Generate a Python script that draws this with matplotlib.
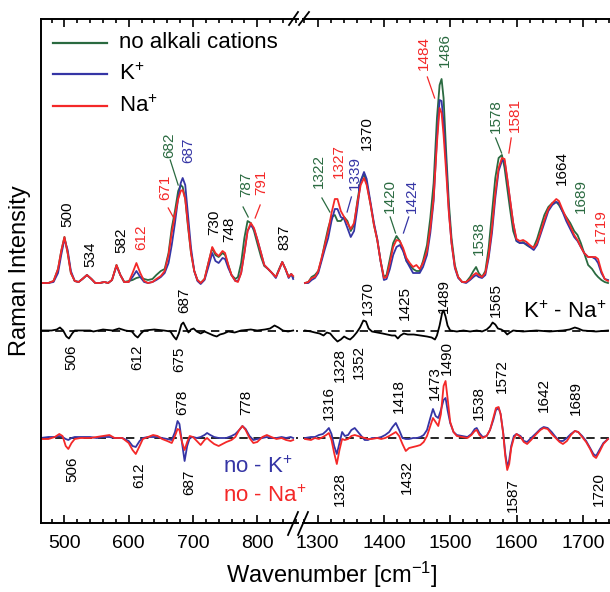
import matplotlib
matplotlib.use("Agg")
import matplotlib.pyplot as plt
from matplotlib.lines import Line2D
from matplotlib.ticker import MultipleLocator

plt.rcParams['font.family'] = ['Liberation Sans', 'DejaVu Sans']
plt.rcParams['mathtext.default'] = 'regular'

GREEN = '#2a6a40'
BLUE = '#3535a5'
RED = '#f42828'

# ---------------- data: main spectra (height above baseline) ----------------
wn_low = [463, 475, 483, 490, 495, 500, 505, 510, 516, 522, 528, 535, 542, 548, 555, 562, 568, 574,
          581, 587, 593, 600, 606, 612, 618, 624, 630, 637, 643, 650, 656, 662, 667, 672, 677, 681,
          684, 688, 692, 697, 702, 707, 712, 718, 724, 730, 735, 740, 746, 750, 755, 760, 766, 770,
          775, 780, 785, 790, 795, 800, 806, 811, 817, 823, 829, 834, 839, 844, 849, 853, 856]
na_low = [0, 0, 2, 14, 32, 46, 30, 10, 2, 1, 4, 8, 4, 0, 0, 1, 0, 3,
          18, 8, 1, 1, 10, 20, 10, 2, 0, 1, 4, 7, 12, 28, 50, 68, 84, 92,
          93, 84, 60, 30, 12, 3, 0, 4, 20, 36, 30, 27, 32, 30, 18, 8, 2, 1,
          10, 30, 52, 60, 55, 44, 30, 18, 14, 10, 6, 13, 21, 14, 6, 9, 7]
k_low = [0, 0, 1, 10, 28, 44, 33, 12, 2, 1, 4, 8, 4, 0, 0, 1, 0, 3,
         17, 8, 1, 1, 6, 12, 6, 1, 0, 1, 3, 6, 10, 20, 38, 60, 85, 100,
         105, 98, 70, 35, 12, 2, -1, 3, 16, 30, 22, 20, 25, 24, 15, 8, 2, 2,
         10, 30, 52, 58, 54, 44, 30, 18, 14, 10, 5, 13, 21, 14, 5, 9, 4]
no_low = [0, 0, 2, 14, 32, 46, 30, 10, 2, 1, 4, 8, 4, 0, 0, 1, 0, 3,
          18, 8, 1, 2, 3, 5, 6, 4, 3, 4, 8, 12, 14, 30, 55, 72, 92, 98,
          96, 84, 58, 30, 12, 3, 0, 4, 20, 35, 28, 26, 30, 28, 18, 8, 4, 6,
          20, 45, 62, 60, 52, 40, 26, 17, 14, 10, 6, 14, 21, 14, 6, 9, 6]

wn_high = [1281, 1286, 1291, 1296, 1301, 1306, 1311, 1316, 1321, 1326, 1330, 1335, 1340, 1345, 1350,
           1355, 1360, 1365, 1370, 1374, 1380, 1385, 1390, 1395, 1400, 1404, 1409, 1414, 1419, 1424,
           1429, 1434, 1439, 1444, 1449, 1454, 1459, 1465, 1470, 1475, 1480, 1484, 1487, 1490, 1494,
           1498, 1502, 1507, 1512, 1518, 1524, 1530, 1535, 1539, 1543, 1548, 1553, 1558, 1563, 1568,
           1573, 1578, 1582, 1586, 1590, 1595, 1600, 1605, 1610, 1615, 1620, 1626, 1631, 1636, 1642,
           1648, 1654, 1660, 1664, 1669, 1675, 1681, 1687, 1692, 1697, 1702, 1708, 1714, 1719, 1723,
           1728, 1733, 1738]
na_high = [0, 1, 5, 6, 12, 25, 38, 52, 70, 84, 84, 72, 66, 60, 54,
           60, 80, 98, 105, 98, 78, 58, 43, 22, 5, 6, 20, 36, 43, 42,
           35, 25, 20, 16, 18, 14, 20, 32, 55, 85, 140, 175, 170, 148, 110,
           70, 40, 16, 6, 1, 1, 4, 8, 10, 8, 6, 10, 28, 55, 90,
           115, 125, 124, 105, 85, 60, 44, 42, 43, 41, 38, 35, 40, 50, 63,
           74, 80, 84, 82, 74, 65, 57, 48, 43, 36, 30, 26, 26, 26, 24,
           12, 4, 2]
k_high = [0, 0, 3, 5, 10, 22, 34, 45, 62, 74, 74, 66, 64, 55, 46,
          52, 75, 102, 111, 104, 80, 60, 44, 22, 3, 4, 14, 28, 36, 38,
          32, 22, 16, 10, 10, 10, 16, 28, 50, 82, 145, 183, 182, 160, 118,
          72, 40, 15, 5, 1, 0, 3, 6, 8, 6, 5, 8, 25, 50, 85,
          112, 122, 122, 104, 84, 60, 42, 40, 40, 39, 36, 33, 38, 48, 60,
          72, 78, 81, 80, 72, 62, 54, 46, 42, 36, 30, 26, 26, 24, 20,
          10, 4, 3]
no_high = [0, 1, 6, 8, 12, 24, 40, 55, 66, 68, 62, 62, 66, 62, 52,
           58, 82, 102, 109, 100, 78, 58, 43, 22, 6, 8, 24, 40, 47, 42,
           33, 22, 18, 14, 12, 12, 22, 38, 65, 100, 165, 198, 204, 185, 130,
           80, 45, 18, 6, 1, 1, 6, 12, 16, 10, 6, 12, 35, 70, 105,
           125, 128, 115, 95, 75, 52, 42, 40, 41, 38, 36, 36, 44, 55, 68,
           76, 80, 81, 78, 72, 66, 60, 52, 48, 40, 30, 18, 14, 9, 6,
           3, 1, 0]

# ---------------- data: K+ - Na+ difference ----------------
wn_kna_low = [463, 480, 488, 493, 498, 503, 507, 512, 516, 540, 545, 560, 575, 585, 595, 605, 610, 614,
              619, 624, 640, 655, 665, 670, 674, 678, 682, 685, 689, 693, 697, 701, 706, 712, 718, 725,
              732, 737, 742, 748, 755, 765, 775, 790, 800, 812, 820, 827, 833, 840, 848, 856]
kna_low = [0, 0, 1, 3, 0, -6, -8, -3, 0, 0, -1, 1, 0, 2, 0, -1, -5, -7,
           -3, 0, 1, 0, -1, -6, -9, -3, 6, 8, 3, -2, 1, 2, -1, -3, -1, -3,
           -5, -6, -4, -3, -1, -2, 0, 1, 0, 1, 2, 5, 3, 0, -1, 0]
wn_kna_high = [1281, 1290, 1296, 1303, 1309, 1314, 1319, 1324, 1330, 1335, 1340, 1345, 1349, 1354, 1359,
               1364, 1369, 1373, 1377, 1382, 1390, 1398, 1405, 1412, 1417, 1421, 1425, 1430, 1436, 1445,
               1455, 1465, 1472, 1477, 1480, 1484, 1488, 1490, 1493, 1496, 1500, 1510, 1520, 1530, 1540,
               1548, 1555, 1560, 1564, 1568, 1572, 1577, 1582, 1586, 1590, 1595, 1610, 1630, 1650, 1670,
               1680, 1688, 1693, 1700, 1720, 1738]
kna_high = [0, -1, -2, -3, -5, -2, -3, -7, -11, -9, -6, -8, -9, -6, -2,
            3, 10, 9, 2, -1, -2, -3, -4, -5, -5, -8, -5, -3, -4, -4,
            -5, -6, -7, -9, -5, 5, 18, 20, 14, 5, 0, -1, 0, -1, 0,
            -1, 1, 4, 8, 6, 2, 1, -1, -4, -2, 0, -1, 0, -1, 0,
            1, 3, 2, 0, -1, 0]

# ---------------- data: no - K+ and no - Na+ differences ----------------
wn_d_low = [463, 475, 485, 492, 497, 502, 506, 511, 516, 525, 540, 550, 560, 570, 578, 590, 600, 606,
            611, 617, 622, 630, 638, 645, 652, 660, 667, 672, 676, 679, 683, 687, 691, 695, 700, 706,
            712, 718, 722, 727, 733, 740, 746, 752, 760, 766, 772, 777, 782, 788, 794, 800, 808, 815,
            822, 830, 838, 845, 852, 856]
nok_low = [0, 1, 1, 2, 1, -1, -2, 0, 1, 1, 1, 0, 1, 1, 0, 0, -3, -8,
           -9, -3, 0, 1, 1, 1, 0, -1, -2, 6, 17, 14, -5, -23, -8, 0, 1, 0,
           1, 3, 5, 3, 1, 0, 0, 0, 2, 4, 8, 12, 9, 2, -2, -1, 0, 1,
           0, 0, 1, 0, 1, 0]
nona_low = [-1, -1, 1, 4, 2, -8, -11, -5, -1, 0, 0, 1, 2, 3, 0, 0, -5, -12,
            -16, -8, -1, 1, 3, 2, -1, -3, -5, 2, 9, 8, -4, -12, -4, 2, 1, -3,
            -7, -2, 0, -3, -6, -8, -6, -4, -2, 1, 8, 12, 8, 0, -5, -4, 1, 3,
            1, -1, 0, -2, -3, -2]
wn_d_high = [1281, 1290, 1296, 1302, 1308, 1313, 1317, 1321, 1325, 1329, 1333, 1337, 1341, 1346, 1351,
             1356, 1361, 1366, 1371, 1376, 1382, 1390, 1396, 1402, 1408, 1413, 1418, 1423, 1428, 1433,
             1438, 1444, 1450, 1455, 1460, 1465, 1470, 1474, 1478, 1482, 1486, 1490, 1493, 1496, 1500,
             1505, 1510, 1518, 1526, 1532, 1537, 1540, 1544, 1549, 1555, 1560, 1565, 1569, 1573, 1576,
             1580, 1583, 1586, 1589, 1592, 1596, 1600, 1606, 1611, 1616, 1622, 1630, 1636, 1641, 1647,
             1653, 1659, 1665, 1670, 1676, 1682, 1688, 1693, 1699, 1705, 1711, 1716, 1720, 1725, 1731,
             1738]
nok_high = [0, 1, 1, 3, 4, 7, 10, 4, -8, -16, -5, 6, 2, 3, 8,
            10, 6, 2, -2, -2, 0, 0, 1, 3, 6, 11, 15, 8, 0, -1,
            -1, 0, 0, 1, 3, 8, 20, 29, 22, 20, 28, 38, 40, 28, 15,
            6, 3, 2, 1, 4, 9, 10, 5, 1, 2, 8, 18, 28, 30, 24,
            5, -15, -29, -22, -8, 2, 4, 2, -3, -4, 0, 5, 9, 11, 10,
            6, 1, -3, -3, 0, 4, 7, 6, 2, -3, -10, -16, -18, -12, -5,
            -1]
nona_high = [-1, -2, 0, -1, 1, 3, 5, -2, -15, -26, -12, -1, -2, -1, 2,
             3, 2, 1, 0, -1, -1, 0, -1, 0, 2, 4, 6, 2, -6, -13,
             -10, -9, -8, -7, -4, 2, 12, 20, 16, 12, 24, 52, 57, 40, 16,
             6, 2, 1, 0, 3, 7, 8, 3, 0, 2, 8, 20, 30, 31, 24,
             4, -18, -32, -26, -10, 0, 4, 1, -4, -6, -2, 4, 8, 10, 9,
             4, 0, -4, -6, -3, 3, 7, 6, 1, -4, -11, -18, -20, -14, -6,
             -1]

# offsets of the stacked traces
SPEC_BASE = 240
KNA_BASE = 192.5
DIFF_BASE = 85

# ---------------- peak labels: (text, wn, y, colour, vertical align) ----------------
labels_low = [
    ("500", 504, 296, 'k', 'bottom'), ("534", 541, 256, 'k', 'bottom'),
    ("582", 588, 270, 'k', 'bottom'), ("612", 619, 273, 'r', 'bottom'),
    ("671", 657, 323, 'r', 'bottom'), ("682", 662.6, 365, 'g', 'bottom'),
    ("687", 693, 360, 'b', 'bottom'), ("730", 733, 288, 'k', 'bottom'),
    ("748", 756, 281, 'k', 'bottom'), ("787", 782.5, 326, 'g', 'bottom'),
    ("791", 806.6, 328, 'r', 'bottom'), ("837", 843, 273, 'k', 'bottom'),
    ("687", 686, 210, 'k', 'bottom'), ("506", 510, 178, 'k', 'top'),
    ("612", 614, 178, 'k', 'top'), ("675", 679, 176, 'k', 'top'),
    ("678", 684, 108, 'k', 'bottom'), ("778", 783, 108, 'k', 'bottom'),
    ("506", 513, 66, 'k', 'top'), ("612", 617, 60, 'k', 'top'),
    ("687", 695, 53, 'k', 'top'),
]
labels_high = [
    ("1322", 1301.5, 335, 'g', 'bottom'), ("1327", 1332.5, 345, 'r', 'bottom'),
    ("1339", 1355.5, 333, 'b', 'bottom'), ("1370", 1374.5, 373, 'k', 'bottom'),
    ("1420", 1409.5, 310, 'g', 'bottom'), ("1424", 1442.5, 310, 'b', 'bottom'),
    ("1484", 1460.5, 453, 'r', 'bottom'), ("1486", 1492.5, 456, 'g', 'bottom'),
    ("1538", 1543.5, 268, 'g', 'bottom'), ("1578", 1568.5, 390, 'g', 'bottom'),
    ("1581", 1597, 391, 'r', 'bottom'), ("1664", 1669, 338, 'k', 'bottom'),
    ("1689", 1696.5, 310, 'g', 'bottom'), ("1719", 1726.5, 280, 'r', 'bottom'),
    ("1370", 1376, 208, 'k', 'bottom'), ("1425", 1431, 203, 'k', 'bottom'),
    ("1489", 1491, 210, 'k', 'bottom'), ("1565", 1569, 206, 'k', 'bottom'),
    ("1328", 1334, 175, 'k', 'top'), ("1352", 1362, 178, 'k', 'top'),
    ("1316", 1317, 103, 'k', 'bottom'), ("1418", 1422.5, 110, 'k', 'bottom'),
    ("1473", 1477, 123, 'k', 'bottom'), ("1490", 1495.5, 148, 'k', 'bottom'),
    ("1538", 1543, 103, 'k', 'bottom'), ("1572", 1578.6, 130, 'k', 'bottom'),
    ("1642", 1641.5, 111, 'k', 'bottom'), ("1689", 1690, 108, 'k', 'bottom'),
    ("1328", 1334, 51, 'k', 'top'), ("1432", 1435, 63, 'k', 'top'),
    ("1587", 1594, 45, 'k', 'top'), ("1720", 1724.5, 51, 'k', 'top'),
]
# leader lines: (wn0, y0, wn1, y1, colour)
leaders_low = [(661.5, 315, 669.3, 306, 'r'), (664.6, 363, 677, 338, 'g'),
               (778, 316, 786, 306, 'g'), (804.6, 318, 796.8, 305, 'r')]
leaders_high = [(1306.5, 325, 1318.5, 311, 'g'), (1351, 326, 1344.5, 311, 'b'),
                (1409.5, 306, 1417.5, 290, 'g'), (1437.5, 306, 1429.5, 290, 'b'),
                (1465.5, 446, 1476.5, 425, 'r'), (1568.5, 385, 1577.5, 370, 'g'),
                (1592, 385, 1588.5, 370, 'r')]

CMAP = {'k': 'black', 'g': GREEN, 'b': BLUE, 'r': RED}

W, H = 610, 592
fig = plt.figure(figsize=(W / 100, H / 100), dpi=100)
ax1 = fig.add_axes([41 / W, 69 / H, 257 / W, 504 / H])
ax2 = fig.add_axes([303 / W, 69 / H, 307 / W, 504 / H])


def offs(vals, base):
    return [v + base for v in vals]


LW = 1.3
for ax, wn, no, k, na, wk, kna, wd, dk, dna in [
        (ax1, wn_low, no_low, k_low, na_low, wn_kna_low, kna_low, wn_d_low, nok_low, nona_low),
        (ax2, wn_high, no_high, k_high, na_high, wn_kna_high, kna_high, wn_d_high, nok_high, nona_high)]:
    ax.plot(wn, offs(no, SPEC_BASE), color=GREEN, lw=LW)
    ax.plot(wn, offs(k, SPEC_BASE), color=BLUE, lw=LW)
    ax.plot(wn, offs(na, SPEC_BASE), color=RED, lw=LW)
    ax.axhline(KNA_BASE, color='black', lw=1.2, ls=(0, (5, 3.5)))
    ax.plot(wk, offs(kna, KNA_BASE), color='black', lw=LW)
    ax.axhline(DIFF_BASE, color='black', lw=1.2, ls=(0, (5, 3.5)))
    ax.plot(wd, offs(dk, DIFF_BASE), color=BLUE, lw=LW)
    ax.plot(wd, offs(dna, DIFF_BASE), color=RED, lw=LW)
    ax.set_ylim(0, 504)
    ax.set_yticks([])
    ax.xaxis.set_major_locator(MultipleLocator(100))
    ax.xaxis.set_minor_locator(MultipleLocator(20))
    ax.tick_params(axis='x', which='both', direction='in', top=True, bottom=True,
                   labelsize=14, pad=9, width=1.2)
    ax.tick_params(axis='x', which='major', length=6)
    ax.tick_params(axis='x', which='minor', length=3)
    for s in ax.spines.values():
        s.set_linewidth(1.4)

ax1.set_xlim(463.5, 863.5)
ax2.set_xlim(1278, 1741)
ax1.spines['right'].set_visible(False)
ax2.spines['left'].set_visible(False)
ax2.spines['right'].set_visible(False)

for ax, labs, leads in [(ax1, labels_low, leaders_low), (ax2, labels_high, leaders_high)]:
    for t, x, y, c, va in labs:
        ax.text(x, y, t, rotation=90, ha='center', va=va, fontsize=11, color=CMAP[c])
    for x0, y0, x1, y1, c in leads:
        ax.plot([x0, x1], [y0, y1], color=CMAP[c], lw=0.9)

# legend (manual)
for yy, txt, col in [(43, 'no alkali cations', GREEN), (74, 'K$^{+}$', BLUE), (106, 'Na$^{+}$', RED)]:
    fig.add_artist(Line2D([53 / W, 107 / W], [1 - yy / H, 1 - yy / H], color=col, lw=1.6))
    fig.text(119 / W, 1 - yy / H, txt, fontsize=16, va='center', ha='left')

fig.text(523 / W, 1 - 312 / H, 'K$^{+}$ - Na$^{+}$', fontsize=16, va='center', ha='left')
fig.text(223 / W, 1 - 467 / H, 'no - K$^{+}$', fontsize=16, va='center', ha='left', color=BLUE)
fig.text(223 / W, 1 - 496 / H, 'no - Na$^{+}$', fontsize=16, va='center', ha='left', color=RED)

fig.text(20 / W, 1 - 271 / H, 'Raman Intensity', fontsize=17, rotation=90, va='center', ha='center')
fig.text(332 / W, 1 - 575 / H, 'Wavenumber [cm$^{-1}$]', fontsize=17, va='center', ha='center')

# axis-break marks
for (x0, y0, x1, y1) in [(289, 25, 298, 12), (299, 25, 309, 12),
                         (288, 535, 298, 512), (298, 535, 308, 512)]:
    fig.add_artist(Line2D([x0 / W, x1 / W], [1 - y0 / H, 1 - y1 / H], color='black', lw=1.3))

fig.savefig('out.png', dpi=100)
